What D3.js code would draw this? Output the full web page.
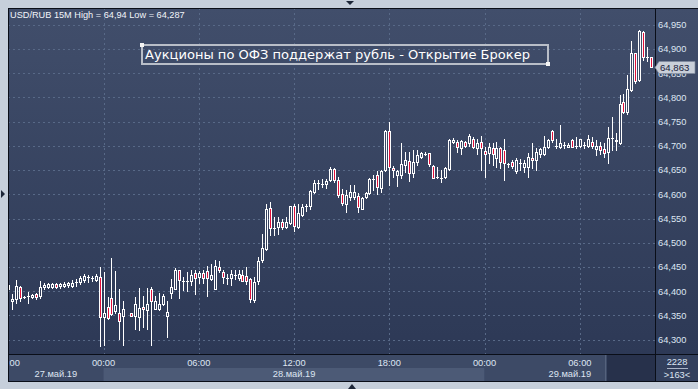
<!DOCTYPE html>
<html><head><meta charset="utf-8">
<script src="https://cdn.jsdelivr.net/npm/d3@7"></script>
<style>html,body{margin:0;padding:0;background:#c6cfdb;overflow:hidden}svg{display:block}</style>
</head><body><svg id="c" width="698" height="389"></svg>
<script>
// ---- data (15-minute bars, first bar = 27 May 2019 18:00) ----
const title = "USD/RUB 15M High = 64,94 Low = 64,287";
const note = "Аукционы по ОФЗ поддержат рубль - Открытие Брокер";
const firstBar = Date.UTC(2019, 4, 27, 18, 0);
const barMinutes = 15;
const open = [64.405,64.380,64.384,64.408,64.388,64.389,64.388,64.394,64.390,64.408,64.409,64.409,64.414,64.410,64.410,64.412,64.411,64.418,64.418,64.423,64.429,64.427,64.423,64.429,64.346,64.367,64.385,64.360,64.354,64.348,null,64.355,64.348,64.346,64.368,64.361,64.405,64.364,64.363,64.374,64.348,64.396,64.405,64.444,64.420,64.421,64.422,64.438,64.430,64.437,64.442,64.426,64.405,64.449,64.440,64.428,64.427,64.433,64.427,64.433,64.431,64.425,64.382,64.420,64.465,64.488,64.571,64.531,64.533,64.542,64.532,64.541,64.575,64.532,64.557,64.576,64.575,64.605,64.623,64.622,64.621,64.629,64.652,64.630,64.601,64.581,64.595,64.595,64.597,64.569,64.594,64.602,64.632,64.640,64.612,64.650,64.731,64.655,64.639,64.640,64.660,64.669,64.643,64.667,64.678,64.684,64.685,64.659,64.635,64.634,64.635,64.653,64.707,64.709,64.695,64.707,64.706,64.715,64.696,64.709,64.690,64.686,64.695,64.674,64.695,64.691,64.662,64.666,64.648,64.664,64.657,64.657,64.675,64.671,64.684,64.684,64.698,64.731,64.700,64.698,64.702,64.698,64.713,64.700,64.700,64.702,64.700,64.707,64.694,64.700,64.693,64.688,64.717,64.712,64.705,64.790,64.770,64.815,64.891,64.836,64.936,64.884,64.883];
const high = [64.421,64.394,64.423,64.411,64.390,64.399,64.395,64.397,64.420,64.416,64.416,64.417,64.416,64.417,64.418,64.419,64.423,64.425,64.431,64.435,64.434,64.431,64.436,64.449,64.440,64.387,64.468,64.442,64.404,64.379,null,64.355,64.388,64.406,64.389,64.407,64.408,64.390,64.396,64.394,64.379,64.425,64.447,64.444,64.429,64.440,64.444,64.444,64.442,64.444,64.453,64.457,64.464,64.463,64.444,64.435,64.444,64.444,64.444,64.444,64.449,64.427,64.430,64.471,64.519,64.581,64.584,64.553,64.554,64.550,64.554,64.576,64.579,64.579,64.579,64.581,64.609,64.630,64.630,64.631,64.632,64.657,64.655,64.636,64.610,64.609,64.619,64.619,64.602,64.595,64.605,64.634,64.640,64.648,64.650,64.733,64.749,64.658,64.651,64.705,64.688,64.687,64.691,64.691,64.688,64.688,64.686,64.660,64.657,64.651,64.657,64.715,64.717,64.713,64.712,64.711,64.724,64.719,64.715,64.720,64.697,64.705,64.705,64.709,64.698,64.715,64.664,64.671,64.676,64.672,64.671,64.686,64.706,64.695,64.696,64.720,64.715,64.733,64.715,64.743,64.709,64.705,64.715,64.719,64.715,64.709,64.722,64.719,64.713,64.708,64.705,64.740,64.760,64.726,64.805,64.808,64.846,64.917,64.892,64.940,64.938,64.905,64.884];
const low = [64.402,64.363,64.375,64.379,64.385,64.375,64.385,64.384,64.385,64.405,64.406,64.406,64.407,64.407,64.408,64.409,64.408,64.410,64.414,64.419,64.419,64.422,64.420,64.287,64.289,64.342,64.351,64.354,64.301,64.289,null,64.349,64.322,64.320,64.327,64.322,64.288,64.363,64.361,64.372,64.305,64.385,64.405,64.385,64.403,64.401,64.413,64.394,64.416,64.416,64.391,64.424,64.405,64.440,64.416,64.414,64.413,64.426,64.423,64.420,64.414,64.378,64.378,64.415,64.460,64.485,64.516,64.516,64.519,64.528,64.530,64.539,64.524,64.530,64.556,64.566,64.569,64.602,64.610,64.616,64.614,64.627,64.626,64.594,64.578,64.564,64.588,64.591,64.564,64.569,64.592,64.600,64.608,64.600,64.605,64.649,64.619,64.636,64.618,64.633,64.647,64.628,64.636,64.660,64.674,64.681,64.658,64.633,64.633,64.626,64.633,64.650,64.705,64.688,64.684,64.697,64.700,64.695,64.684,64.651,64.636,64.664,64.660,64.657,64.654,64.629,64.657,64.654,64.643,64.650,64.647,64.636,64.654,64.650,64.678,64.682,64.695,64.708,64.696,64.695,64.695,64.697,64.698,64.696,64.698,64.696,64.698,64.695,64.681,64.684,64.678,64.664,64.691,64.692,64.703,64.767,64.766,64.814,64.829,64.834,64.878,64.876,64.862];
const close = [64.412,64.384,64.411,64.385,64.388,64.389,64.392,64.388,64.408,64.413,64.414,64.414,64.409,64.414,64.415,64.416,64.416,64.418,64.428,64.431,64.429,64.427,64.431,64.346,64.354,64.344,64.353,64.372,64.339,64.363,null,64.349,64.373,64.365,64.363,64.374,64.379,64.380,64.373,64.390,64.357,64.409,64.444,64.423,64.420,64.421,64.433,64.428,64.438,64.428,64.428,64.434,64.453,64.443,64.429,64.428,64.436,64.433,64.435,64.421,64.422,64.383,64.418,64.462,64.489,64.569,64.530,64.531,64.543,64.532,64.543,64.576,64.535,64.561,64.574,64.576,64.606,64.624,64.623,64.622,64.628,64.652,64.630,64.599,64.583,64.599,64.605,64.605,64.573,64.592,64.602,64.631,64.632,64.615,64.648,64.731,64.657,64.650,64.648,64.662,64.671,64.645,64.667,64.681,64.686,64.684,64.662,64.633,64.635,64.634,64.655,64.712,64.713,64.697,64.711,64.700,64.720,64.698,64.706,64.695,64.684,64.698,64.684,64.696,64.667,64.664,64.662,64.658,64.671,64.664,64.664,64.678,64.671,64.688,64.693,64.698,64.712,64.712,64.700,64.706,64.702,64.702,64.698,64.700,64.714,64.702,64.715,64.700,64.700,64.691,64.686,64.717,64.717,64.710,64.787,64.770,64.817,64.892,64.834,64.937,64.884,64.884,64.863];
const priceTicks = [64.30,64.35,64.40,64.45,64.50,64.55,64.60,64.65,64.70,64.75,64.80,64.85,64.90,64.95];
const timeTicks = ["2019-05-27T18:00","2019-05-28T00:00","2019-05-28T06:00","2019-05-28T12:00","2019-05-28T18:00","2019-05-29T00:00","2019-05-29T06:00"];
const dayLabels = ["27.май.19","28.май.19","29.май.19"];
const dayStarts = ["2019-05-27T00:00","2019-05-28T00:00","2019-05-29T00:00","2019-05-30T00:00"];
const lastPrice = 64.863;
const barCount = "2228";
const visibleBars = ">163<";

// ---- layout ----
const W = 698, H = 389;
const L = 8, T = 8, R = 655, B = 354, B2 = 381;
const font = "'Liberation Sans', Arial, sans-serif";
const utc = s => new Date(s + ":00Z");
const bars = open.map((o, i) => ({t: new Date(firstBar + i * barMinutes * 60000), o, h: high[i], l: low[i], c: close[i]}))
  .filter(d => d.o != null);

const x = d3.scaleUtc()
  .domain([new Date(firstBar), new Date(firstBar + (open.length - 1) * barMinutes * 60000)])
  .range([8.3, 8.3 + (open.length - 1) * 3.969]);
const y = d3.scaleLinear().domain([64.30, 64.95]).range([339.6, 24.8]);

const svg = d3.select("#c");
const defs = svg.append("defs");
const gr = defs.append("linearGradient").attr("id", "bg").attr("gradientUnits", "userSpaceOnUse")
  .attr("x1", 0).attr("y1", T).attr("x2", 0).attr("y2", B);
gr.append("stop").attr("offset", 0).attr("stop-color", "#414e6b");
gr.append("stop").attr("offset", 1).attr("stop-color", "#2d3956");
defs.append("clipPath").attr("id", "plot").append("rect").attr("x", L).attr("y", T).attr("width", R - L).attr("height", B - T);
defs.append("clipPath").attr("id", "axisx").append("rect").attr("x", L + 1).attr("y", B).attr("width", R - L).attr("height", B2 - B);

svg.append("rect").attr("width", W).attr("height", H).attr("fill", "#c6cfdb");
svg.append("rect").attr("x", L).attr("y", T).attr("width", W - L).attr("height", B - T).attr("fill", "url(#bg)");
svg.append("rect").attr("x", R).attr("y", B).attr("width", W - R).attr("height", B2 - B).attr("fill", "#33405d");
svg.append("rect").attr("x", L).attr("y", B).attr("width", R - L).attr("height", B2 - B).attr("fill", "#3d4a66");
const xd = dayStarts.map(utc);
svg.append("g").selectAll("rect").data(dayLabels).join("rect")
  .attr("x", (d, i) => Math.max(L, x(xd[i])))
  .attr("y", 368).attr("height", B2 - 368)
  .attr("width", (d, i) => Math.min(R, x(xd[i + 1])) - Math.max(L, x(xd[i])))
  .attr("fill", (d, i) => i % 2 === 1 ? "#4c5a76" : "#3d4a66");
svg.append("rect").attr("x", 607).attr("y", B + 1).attr("width", R - 607).attr("height", B2 - B - 1).attr("fill", "#27314b");
svg.append("rect").attr("x", 605).attr("y", B + 1).attr("width", 1).attr("height", B2 - B - 1).attr("fill", "#55627c");

// grid
const grid = svg.append("g").attr("clip-path", "url(#plot)").attr("stroke", "#586987").attr("stroke-dasharray", "2,3").attr("shape-rendering", "crispEdges");
grid.selectAll(".h").data(priceTicks).join("line")
  .attr("x1", L).attr("x2", R).attr("y1", d => Math.round(y(d)) + 0.5).attr("y2", d => Math.round(y(d)) + 0.5);
grid.selectAll(".v").data(timeTicks.map(utc)).join("line")
  .attr("y1", T).attr("y2", B).attr("x1", d => Math.round(x(d)) + 0.5).attr("x2", d => Math.round(x(d)) + 0.5);

// candles
const cg = svg.append("g").attr("clip-path", "url(#plot)").attr("shape-rendering", "crispEdges");
const cs = cg.selectAll("g").data(bars).join("g");
const px = d => Math.round(x(d.t));
const bTop = d => Math.round(y(Math.max(d.o, d.c)));
const bBot = d => Math.round(y(Math.min(d.o, d.c)));
cs.append("rect").attr("x", px).attr("width", 1).attr("fill", "#fff")
  .attr("y", d => Math.round(y(d.h))).attr("height", d => Math.max(0, bTop(d) - Math.round(y(d.h))));
cs.append("rect").attr("x", px).attr("width", 1).attr("fill", "#fff")
  .attr("y", d => bBot(d)).attr("height", d => Math.max(0, Math.round(y(d.l)) - bBot(d) + 1));
cs.append("rect").attr("x", d => px(d) - 1).attr("width", 3).attr("fill", "#fff")
  .attr("y", bTop).attr("height", d => bBot(d) - bTop(d) + 1);
cs.filter(d => bBot(d) - bTop(d) >= 2).append("rect")
  .attr("x", px).attr("width", 1)
  .attr("y", d => bTop(d) + 1).attr("height", d => bBot(d) - bTop(d) - 1)
  .attr("fill", d => d.o > d.c ? "#e0103a" : "url(#bg)");

// frame lines
svg.append("g").attr("stroke", "#0a0e18").attr("shape-rendering", "crispEdges").selectAll("line")
  .data([[L, T, W, T], [L, T, L, B2], [R + 0.5, T, R + 0.5, B2], [L, B + 0.5, W, B + 0.5], [L, B2, W, B2]])
  .join("line").attr("x1", d => d[0]).attr("y1", d => d[1]).attr("x2", d => d[2]).attr("y2", d => d[3]);

// price axis
const fmt = v => d3.format(".3f")(v).replace(".", ",");
svg.append("g").selectAll("text").data(priceTicks).join("text")
  .attr("x", 658).attr("y", d => y(d) + 3.4).text(fmt)
  .attr("font-family", font).attr("font-size", 9.3).attr("fill", "#dde5f2");

// last price tag
const ly = Math.round(y(lastPrice)) + 0.5;
svg.append("path").attr("d", `M655,${ly} L659,${ly - 6} L695,${ly - 6} L695,${ly + 6} L659,${ly + 6} Z`)
  .attr("fill", "#c9cfd9").attr("stroke", "#7d889c").attr("stroke-width", 0.7);
svg.append("text").attr("x", 660).attr("y", ly + 3.6).text(fmt(lastPrice))
  .attr("font-family", font).attr("font-size", 9.6).attr("fill", "#17203a");

// time axis
const xa = svg.append("g").attr("clip-path", "url(#axisx)");
xa.selectAll("text").data(timeTicks.map(utc)).join("text")
  .attr("x", d => x(d)).attr("y", 366).attr("text-anchor", "middle")
  .text(d3.utcFormat("%H:%M"))
  .attr("font-family", font).attr("font-size", 9.3).attr("fill", "#dde5f2");
xa.selectAll(".d").data(dayLabels).join("text")
  .attr("x", (d, i) => (Math.max(L, x(xd[i])) + Math.min(R, x(xd[i + 1]))) / 2)
  .attr("y", 376.5).attr("text-anchor", "middle").text(d => d)
  .attr("font-family", font).attr("font-size", 9.3).attr("fill", "#dde5f2");

// bar counter
svg.append("text").attr("x", 677).attr("y", 365).attr("text-anchor", "middle").text(barCount)
  .attr("font-family", font).attr("font-size", 9.3).attr("fill", "#dde5f2");
svg.append("rect").attr("x", 667).attr("y", 368).attr("width", 21).attr("height", 1).attr("fill", "#aab4c6");
svg.append("text").attr("x", 677).attr("y", 378).attr("text-anchor", "middle").text(visibleBars)
  .attr("font-family", font).attr("font-size", 9.3).attr("fill", "#dde5f2");

// title
svg.append("text").attr("x", 10).attr("y", 18.3).text(title)
  .attr("font-family", font).attr("font-size", 9.2).attr("fill", "#f2f5fa");

// annotation
svg.append("rect").attr("x", 142).attr("y", 45).attr("width", 406).attr("height", 19)
  .attr("fill", "none").attr("stroke", "#b9bec8").attr("stroke-width", 2);
svg.append("rect").attr("x", 140).attr("y", 43).attr("width", 4).attr("height", 4).attr("fill", "#f4f4f4");
svg.append("rect").attr("x", 546).attr("y", 62).attr("width", 4).attr("height", 4).attr("fill", "#f4f4f4");
svg.append("text").attr("x", 145).attr("y", 58.5).text(note)
  .attr("textLength", 385).attr("lengthAdjust", "spacingAndGlyphs")
  .attr("font-family", "'DejaVu Sans', sans-serif").attr("font-size", 12).attr("fill", "#ffffff");

// scroll arrows
svg.append("g").attr("fill", "#1c2638").selectAll("path")
  .data(["M346,1 L354,1 L350,5 Z", "M348,389 L356,389 L352,384 Z", "M1,190 L1,198 L5,194 Z"])
  .join("path").attr("d", d => d);
</script></body></html>
